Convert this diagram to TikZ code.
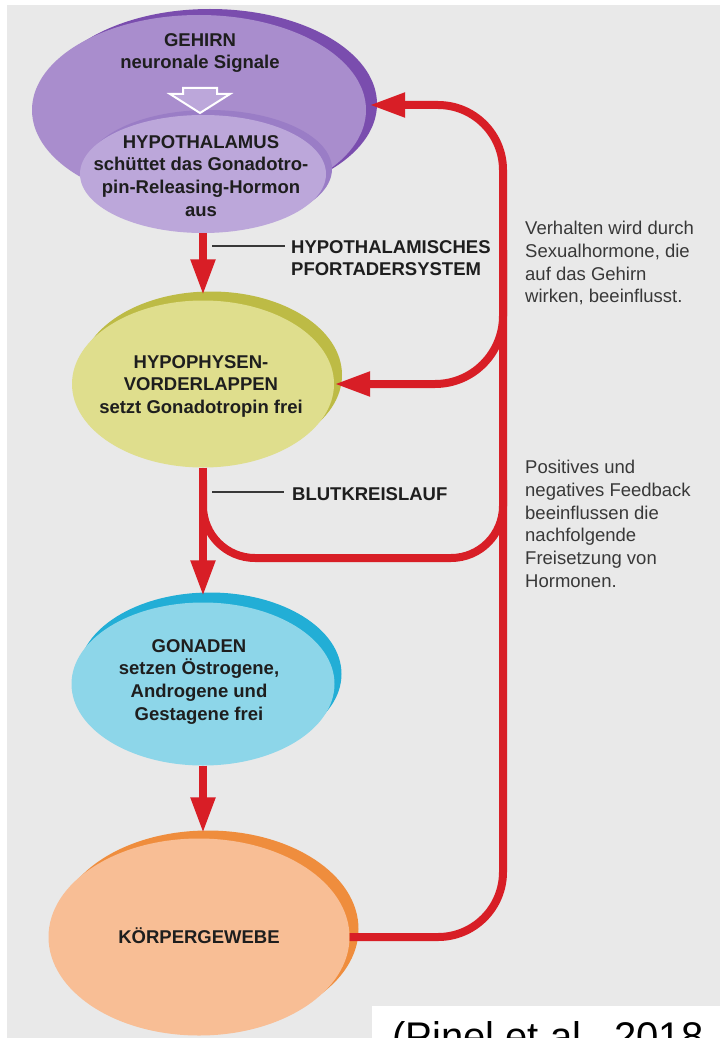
\documentclass[tikz,border=0pt]{standalone}
\usepackage{fontspec}
\setmainfont{Liberation Sans}
\usetikzlibrary{arrows.meta,shapes.geometric,calc}
\definecolor{bg}{HTML}{E9E9E9}
\definecolor{gehfill}{HTML}{A98DCD}
\definecolor{gehrim}{HTML}{7A4DAE}
\definecolor{hytfill}{HTML}{BCA7DA}
\definecolor{hytrim}{HTML}{9A7DC6}
\definecolor{pitfill}{HTML}{DFDE8D}
\definecolor{pitrim}{HTML}{BDBB45}
\definecolor{gonfill}{HTML}{8DD6E9}
\definecolor{gonrim}{HTML}{22AED6}
\definecolor{korfill}{HTML}{F8BE95}
\definecolor{korrim}{HTML}{EF8D3D}
\definecolor{fbred}{HTML}{D81E26}
\definecolor{txtdark}{HTML}{1E1E1E}
\definecolor{txtgrey}{HTML}{383838}
\begin{document}
\begin{tikzpicture}[x=1pt,y=-1pt,
  ell/.style={ellipse, draw=none, inner sep=0pt},
  redline/.style={draw=fbred, line width=8pt},
  conn/.style={redline, -{Triangle[length=36pt,width=23pt]}},
  btxt/.style={font=\fontsize{18.5}{22.8}\selectfont\bfseries, text=txtdark, inner sep=0pt, align=center},
  rtxt/.style={font=\fontsize{18.5}{22.7}\selectfont, text=txtgrey, inner sep=0pt, align=left, anchor=north west},
  thinline/.style={draw=txtgrey, line width=1.1pt}]
\useasboundingbox (0,0) rectangle (720,1038);
\fill[white] (0,0) rectangle (720,1038);
\fill[bg] (7,5) rectangle (720,1038);
\fill[white] (372,1006) rectangle (720,1038);

% ellipses
\node[ell, fill=gehrim, minimum width=334pt, minimum height=190pt] (gehirnrim) at (210,104) {};
\node[ell, fill=gehfill, minimum width=334pt, minimum height=190pt] (gehirn) at (199,110) {};
\node[ell, fill=hytrim, minimum width=246pt, minimum height=118pt] (hytrim) at (209,169) {};
\node[ell, fill=hytfill, minimum width=246pt, minimum height=118pt] (hyt) at (203,174) {};
\node[ell, fill=pitrim, minimum width=262pt, minimum height=167pt] (pitrim) at (211,375) {};
\node[ell, fill=pitfill, minimum width=262pt, minimum height=167pt] (pit) at (203,384) {};
\node[ell, fill=gonrim, minimum width=263pt, minimum height=163pt] (gonrim) at (210,674) {};
\node[ell, fill=gonfill, minimum width=263pt, minimum height=163pt] (gon) at (203,684) {};
\node[ell, fill=korrim, minimum width=301pt, minimum height=197pt] (korrim) at (208,929) {};
\node[ell, fill=korfill, minimum width=301pt, minimum height=197pt] (kor) at (199,937) {};

% hollow arrow inside GEHIRN
\draw[white, line width=2pt, fill=hytfill, line join=miter]
  (183,88) -- (217,88) -- (217,94) -- (230,94) -- (200,113) -- (170,94) -- (183,94) -- cycle;

% texts
\node[btxt, anchor=north] (tgeh) at (200,33) {GEHIRN\\neuronale Signale};
\node[btxt, anchor=north] (thyt) at (201,135) {HYPOTHALAMUS\\schüttet das Gonadotro-\\pin-Releasing-Hormon\\aus};
\node[btxt, anchor=north] (tpit) at (201,355) {HYPOPHYSEN-\\VORDERLAPPEN\\setzt Gonadotropin frei};
\node[btxt, anchor=north] (tgon) at (199,639) {GONADEN\\setzen Östrogene,\\Androgene und\\Gestagene frei};
\node[btxt, anchor=base] (tkor) at (199,943) {KÖRPERGEWEBE};
\node[btxt, anchor=north west, align=left] (tpfo) at (291,240) {HYPOTHALAMISCHES\\PFORTADERSYSTEM};
\node[btxt, anchor=north west, align=left] (tblut) at (292,487) {BLUTKREISLAUF};
\node[rtxt] (tverh) at (525,221) {Verhalten wird durch\\Sexualhormone, die\\auf das Gehirn\\wirken, beeinflusst.};
\node[rtxt] (tpos) at (525,460) {Positives und\\negatives Feedback\\beeinflussen die\\nachfolgende\\Freisetzung von\\Hormonen.};
\node[anchor=north west, inner sep=0pt, font=\fontsize{40}{48}\selectfont, text=black] (tpinel) at (392,1021) {(Pinel et al., 2018};

% connectors
\coordinate (fbx) at (503,0);
\coordinate (ujoin) at (203,480);
\draw[redline, rounded corners=52pt] (ujoin) -- (ujoin |- 0,558) -- (fbx |- 0,558) -- (fbx |- ujoin);
\draw[conn] (hyt.south) -- ($(hyt.south |- pit.north)+(0,-5)$);
\draw[conn] (pit.south) -- ($(pit.south |- gon.north)+(0,-6)$);
\draw[conn] (gon.south) -- ($(gon.south |- kor.north)+(0,-5)$);
\draw[conn, rounded corners=65pt] (kor.east) -- (fbx |- kor.east) -- (fbx |- 0,105) -- ($(gehirnrim.east)+(-8,1)$);
\draw[conn, rounded corners=68pt] (fbx |- 0,250) -- (fbx |- pit.east) -- (pit.east);

% label leader lines
\coordinate (l1) at (212,246);
\draw[thinline] (l1) -- ($(l1 -| tpfo.west)+(-6,0)$);
\coordinate (l2) at (212,492);
\draw[thinline] (l2) -- ($(l2 -| tblut.west)+(-8,0)$);
\end{tikzpicture}
\end{document}
